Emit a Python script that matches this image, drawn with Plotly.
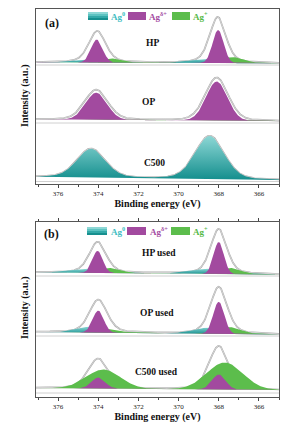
import numpy as np
import plotly.graph_objects as go

# ---------------- data ----------------
X_RANGE = [377.1, 365.0]           # binding energy axis (reversed)
TICK_VALS = [376, 374, 372, 370, 368, 366]
SERIES = ["Ag<sup>0</sup>", "Ag<sup>δ+</sup>", "Ag<sup>+</sup>"]
X_TITLE = "Binding energy (eV)"
Y_TITLE = "Intensity (a.u.)"

# peak lists: [center eV, height a.u., FWHM eV, lorentz fraction]
# background: [intensity at 377.1 eV, intensity at 365 eV]; sep: level of thin background line
# ---- panel (a)
HP_LABEL = "HP"
HP_BG = [121.7, 120.7]
HP_SEP = 119.0
HP_ENV = [[374.05, 31.5, 1.0, 0.4], [368.05, 46.0, 0.95, 0.4]]
HP_AG0 = [[374.4, 3.0, 1.8, 0.0], [368.5, 4.0, 2.0, 0.0]]
HP_AGD = [[374.07, 23.0, 0.68, 0.0], [368.03, 33.0, 0.65, 0.0]]
HP_AGP = [[373.3, 4.0, 1.2, 0.0], [367.3, 6.0, 1.3, 0.0]]

OP_LABEL = "OP"
OP_BG = [64.7, 63.0]
OP_SEP = 61.0
OP_ENV = [[374.1, 30.0, 1.35, 0.2], [368.1, 43.0, 1.35, 0.2]]
OP_AG0 = []
OP_AGD = [[374.1, 27.0, 1.25, 0.0], [368.1, 39.0, 1.25, 0.0]]
OP_AGP = [[373.0, 1.0, 1.5, 0.0], [366.9, 1.5, 1.5, 0.0]]

C5_LABEL = "C500"
C5_BG = [7.3, 4.0]
C5_SEP = 2.5
C5_ENV = [[374.36, 28.8, 1.65, 0.2], [368.45, 43.3, 1.7, 0.2]]
C5_AG0 = [[374.36, 28.5, 1.65, 0.2], [368.45, 43.0, 1.7, 0.2]]
C5_AGD = []
C5_AGP = []

# ---- panel (b)
HPU_LABEL = "HP used"
HPU_BG = [124.7, 122.5]
HPU_SEP = 121.0
HPU_ENV = [[374.03, 31.0, 1.0, 0.4], [368.0, 45.0, 0.95, 0.4]]
HPU_AG0 = [[374.4, 4.0, 2.0, 0.0], [368.5, 5.0, 2.0, 0.0]]
HPU_AGD = [[374.03, 22.0, 0.6, 0.0], [368.0, 32.0, 0.6, 0.0]]
HPU_AGP = [[373.4, 5.0, 1.2, 0.0], [367.4, 6.0, 1.2, 0.0]]

OPU_LABEL = "OP used"
OPU_BG = [65.0, 62.5]
OPU_SEP = 61.0
OPU_ENV = [[374.0, 33.0, 1.05, 0.4], [368.0, 47.0, 1.0, 0.4]]
OPU_AG0 = [[374.3, 6.0, 1.6, 0.0], [368.5, 6.0, 1.8, 0.0]]
OPU_AGD = [[374.0, 22.0, 0.65, 0.0], [368.0, 32.0, 0.65, 0.0]]
OPU_AGP = [[373.5, 4.0, 1.3, 0.0], [367.5, 7.0, 1.4, 0.0]]

C5U_LABEL = "C500 used"
C5U_BG = [9.0, 7.0]
C5U_SEP = 4.0
C5U_ENV = [[374.0, 30.0, 1.2, 0.3], [368.0, 43.5, 1.15, 0.3]]
C5U_AG0 = []
C5U_AGD = [[374.0, 11.0, 0.8, 0.0], [368.0, 15.0, 0.8, 0.0]]
C5U_AGP = [[373.75, 19.0, 2.0, 0.0], [367.7, 27.0, 2.1, 0.0]]

# label positions [eV, intensity]
LABEL_POS_A = [[371.3, 141], [371.5, 82], [371.2, 21]]
LABEL_POS_B = [[371.0, 144], [371.1, 84], [371.1, 25]]

# ---------------- styles ----------------
FONT = "Liberation Serif"
CYAN_SCALE = [[0, "#138e8d"], [1, "#8dd7d5"]]
MAGENTA = "#a24a9f"
GREEN = "#5cbd4c"
TXT_COLORS = ["#3dbdc2", "#a44ca2", "#55b947"]

OFF = 8  # page offset of the figure inside the browser window
W, H = 304, 428
ML, MT = 36 - OFF, 9 - OFF
MR = W - (279 - OFF)
MB = H - (397 - OFF)
PW, PH = W - ML - MR, H - MT - MB


def px(x):
    # screen pixel -> paper fraction
    return (x - OFF - ML) / PW


def py(y):
    return (H - MB - (y - OFF)) / PH


xs = np.linspace(min(X_RANGE), max(X_RANGE), 500)


def pv(peaks):
    out = np.zeros_like(xs)
    for c, h, w, eta in peaks:
        u = 4 * ((xs - c) / w) ** 2
        out += h * (eta / (1 + u) + (1 - eta) * np.exp(-np.log(2) * u))
    return out


def background(bg):
    # linear background between the two end values
    return bg[1] + (bg[0] - bg[1]) * (xs - X_RANGE[1]) / (X_RANGE[0] - X_RANGE[1])


fig = go.Figure()


def add_spectrum(xa, ya, bg_vals, sep, env, ag0, agd, agp):
    bg = background(bg_vals)
    # thin background line
    fig.add_trace(go.Scatter(x=[X_RANGE[0], X_RANGE[1]], y=[sep, sep], mode="lines",
                             line=dict(color="#c4c4c4", width=0.8), xaxis=xa, yaxis=ya,
                             showlegend=False, hoverinfo="skip"))
    env_y = bg + pv(env)
    fig.add_trace(go.Scatter(x=xs, y=env_y, mode="lines", line=dict(color="#a8a8a8", width=1.7),
                             xaxis=xa, yaxis=ya, showlegend=False, hoverinfo="skip"))
    fig.add_trace(go.Scatter(x=xs, y=env_y, mode="lines", line=dict(color="white", width=0.5),
                             xaxis=xa, yaxis=ya, showlegend=False, hoverinfo="skip"))
    for peaks, kind in ((ag0, "c"), (agp, "g"), (agd, "m")):
        if not peaks:
            continue
        top = bg + pv(peaks)
        polx = np.concatenate([xs, xs[::-1]])
        poly = np.concatenate([top, bg[::-1]])
        kw = dict(x=polx, y=poly, mode="lines", fill="toself", line=dict(width=0),
                  xaxis=xa, yaxis=ya, showlegend=False, hoverinfo="skip")
        if kind == "c":
            kw["fillgradient"] = dict(type="vertical", colorscale=CYAN_SCALE)
            kw["fillcolor"] = "#3fb8b8"
        elif kind == "g":
            kw["fillcolor"] = GREEN
        else:
            kw["fillcolor"] = MAGENTA
        fig.add_trace(go.Scatter(**kw))


add_spectrum("x", "y", HP_BG, HP_SEP, HP_ENV, HP_AG0, HP_AGD, HP_AGP)
add_spectrum("x", "y", OP_BG, OP_SEP, OP_ENV, OP_AG0, OP_AGD, OP_AGP)
add_spectrum("x", "y", C5_BG, C5_SEP, C5_ENV, C5_AG0, C5_AGD, C5_AGP)
add_spectrum("x2", "y2", HPU_BG, HPU_SEP, HPU_ENV, HPU_AG0, HPU_AGD, HPU_AGP)
add_spectrum("x2", "y2", OPU_BG, OPU_SEP, OPU_ENV, OPU_AG0, OPU_AGD, OPU_AGP)
add_spectrum("x2", "y2", C5U_BG, C5U_SEP, C5U_ENV, C5U_AG0, C5U_AGD, C5U_AGP)

annotations = []
for (lx, ly), name in zip(LABEL_POS_A, [HP_LABEL, OP_LABEL, C5_LABEL]):
    annotations.append(dict(x=lx, y=ly, xref="x", yref="y", text=f"<b>{name}</b>", showarrow=False,
                            font=dict(family=FONT, size=9.5, color="#111")))
for (lx, ly), name in zip(LABEL_POS_B, [HPU_LABEL, OPU_LABEL, C5U_LABEL]):
    annotations.append(dict(x=lx, y=ly, xref="x2", yref="y2", text=f"<b>{name}</b>", showarrow=False,
                            font=dict(family=FONT, size=9.5, color="#111")))

# y-axis titles
for yc in (96, 308):
    annotations.append(dict(x=px(25), y=py(yc), xref="paper", yref="paper", text=f"<b>{Y_TITLE}</b>",
                            xanchor="center", yanchor="middle",
                            textangle=-90, showarrow=False, font=dict(family=FONT, size=10, color="#111")))

shapes = []
# panel letters and legends
for letter, lx, ly, top, bot, sw, tx in (
    ("(a)", 52, 23, 12, 20, [(88, 108), (128, 146), (172, 190)], [109, 147, 191]),
    ("(b)", 51, 234, 227, 235, [(87, 107), (127, 146), (171, 190)], [109, 148, 191]),
):
    annotations.append(dict(x=px(lx), y=py(ly), xref="paper", yref="paper", text=f"<b>{letter}</b>",
                            xanchor="center", yanchor="middle",
                            showarrow=False, font=dict(family=FONT, size=12, color="#111")))
    # cyan gradient swatch as strips
    strips = ["#8dd7d5", "#5dc3c1", "#33a9a8", "#168f8e"]
    n = len(strips)
    for i, col in enumerate(strips):
        y0 = top + (bot - top) * i / n
        y1 = top + (bot - top) * (i + 1) / n
        shapes.append(dict(type="rect", xref="paper", yref="paper", x0=px(sw[0][0]), x1=px(sw[0][1]),
                           y0=py(y1), y1=py(y0), fillcolor=col, line=dict(width=0)))
    for (a, b), col in zip(sw[1:], [MAGENTA, GREEN]):
        shapes.append(dict(type="rect", xref="paper", yref="paper", x0=px(a), x1=px(b),
                           y0=py(bot), y1=py(top), fillcolor=col, line=dict(width=0)))
    for t, name, col in zip(tx, SERIES, TXT_COLORS):
        annotations.append(dict(x=px(t), y=py((top + bot) / 2), xref="paper", yref="paper",
                                xanchor="left", yanchor="middle", text=f"<b>{name}</b>", showarrow=False,
                                font=dict(family=FONT, size=9, color=col)))

axis_common = dict(range=X_RANGE, tickvals=TICK_VALS, ticks="outside", ticklen=3, tickwidth=0.8,
                   tickcolor="#444", showline=True, linecolor="#555", linewidth=1, mirror="ticks",
                   tickfont=dict(family=FONT, size=7, color="#222"),
                   minor=dict(dtick=1, ticks="outside", ticklen=2, tickcolor="#444"),
                   showgrid=False, zeroline=False, automargin=False,
                   title=dict(text=f"<b>{X_TITLE}</b>", font=dict(family=FONT, size=10, color="#111"),
                              standoff=1))
yaxis_common = dict(range=[0, 175], showticklabels=False, ticks="", showline=True, linecolor="#555",
                    linewidth=1, mirror=True, showgrid=False, zeroline=False, automargin=False)

fig.update_layout(
    width=W, height=H, margin=dict(l=ML, r=MR, t=MT, b=MB, autoexpand=False),
    paper_bgcolor="white", plot_bgcolor="white", showlegend=False,
    xaxis=dict(anchor="y", **axis_common),
    yaxis=dict(anchor="x", domain=[py(184), 1.0], **yaxis_common),
    xaxis2=dict(anchor="y2", **axis_common),
    yaxis2=dict(anchor="x2", domain=[0.0, py(222)], **yaxis_common),
    annotations=annotations, shapes=shapes,
)

fig.write_html("out.html")
